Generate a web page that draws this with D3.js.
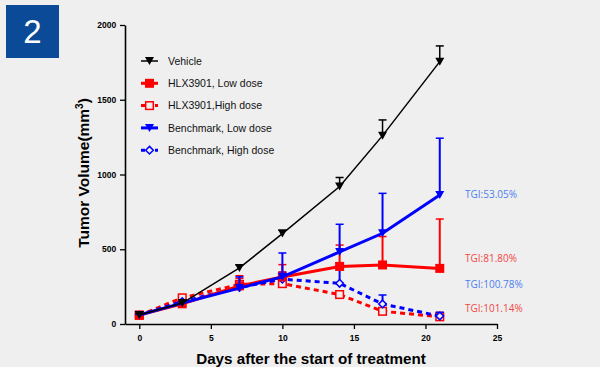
<!DOCTYPE html>
<html><head><meta charset="utf-8">
<script src="https://cdn.jsdelivr.net/npm/d3@7"></script>
<style>
html,body{margin:0;padding:0;background:#efefef;}
svg{display:block;}
</style></head>
<body>
<svg id="chart" width="600" height="367"></svg>
<script>
// ---- data ----
const days = [0, 3, 7, 10, 14, 17, 21];
const vehicle     = [60, 140, 375, 605, 920, 1260, 1755];
const vehicleSD   = [10, 10, 20, 22, 60, 105, 105];
const hlxLow      = [60, 135, 255, 315, 385, 395, 372];
const hlxLowSD    = [5, 10, 68, 82, 143, 190, 330];
const hlxHigh     = [58, 175, 265, 270, 197, 85, 48];
const hlxHighSD   = [5, 10, 40, 78, 10, 10, 30];
const bmLow       = [60, 140, 240, 315, 482, 607, 863];
const bmLowSD     = [5, 10, 75, 160, 185, 267, 380];
const bmHigh      = [60, 150, 245, 300, 272, 134, 53];
const bmHighSD    = [5, 10, 30, 45, 138, 60, 25];
const seriesNames = ["Vehicle", "HLX3901, Low dose", "HLX3901,High dose", "Benchmark, Low dose", "Benchmark, High dose"];
const xTicks = [0, 5, 10, 15, 20, 25];
const yTicks = [0, 500, 1000, 1500, 2000];
const tgiLabels = ["TGI:53.05%", "TGI:81.80%", "TGI:100.78%", "TGI:101.14%"];
const tgiY = [863, 435, 265, 105];

const series = [
  {name: seriesNames[0], v: vehicle, sd: vehicleSD, color: "#000", width: 1.5, dash: null, marker: "tri"},
  {name: seriesNames[1], v: hlxLow, sd: hlxLowSD, color: "#ff0000", width: 3, dash: null, marker: "sqFill"},
  {name: seriesNames[2], v: hlxHigh, sd: hlxHighSD, color: "#ff0000", width: 3, dash: "5,4", marker: "sqOpen"},
  {name: seriesNames[3], v: bmLow, sd: bmLowSD, color: "#0000ff", width: 3, dash: null, marker: "tri"},
  {name: seriesNames[4], v: bmHigh, sd: bmHighSD, color: "#0000ff", width: 3, dash: "5,4", marker: "dia"}
];
const tgiColors = ["#4a7ff0", "#f24646", "#4a7ff0", "#f24646"];

const svg = d3.select("#chart");
svg.append("rect").attr("width", 600).attr("height", 367).attr("fill", "#efefef");

// badge
svg.append("rect").attr("x", 6).attr("y", 5).attr("width", 53).attr("height", 53).attr("fill", "#0b4a96");
svg.append("text").attr("x", 32.5).attr("y", 43).attr("text-anchor", "middle")
  .attr("font-family", "Liberation Sans, Arial, sans-serif").attr("font-size", 33).attr("fill", "#fff").text("2");

const x = d3.scaleLinear().domain([-1, 25]).range([125, 497]);
const y = d3.scaleLinear().domain([0, 2000]).range([324, 25]);

const font = "Liberation Sans, Arial, sans-serif";

// axes
const xAxis = svg.append("g").attr("transform", "translate(0,324)")
  .call(d3.axisBottom(x).tickValues(xTicks).tickFormat(d3.format("d")).tickSize(5).tickSizeOuter(0));
const yAxis = svg.append("g").attr("transform", "translate(125,0)")
  .call(d3.axisLeft(y).tickValues(yTicks).tickFormat(d3.format("d")).tickSize(5).tickSizeOuter(0));
[xAxis, yAxis].forEach(g => {
  g.select(".domain").attr("stroke", "#000").attr("stroke-width", 1.6);
  g.selectAll(".tick line").attr("stroke", "#000").attr("stroke-width", 1.3);
  g.selectAll(".tick text").attr("font-family", font).attr("font-weight", "bold")
    .attr("font-size", 8.5).attr("fill", "#000");
});
xAxis.selectAll(".tick text").attr("dy", "1.1em");
yAxis.selectAll(".tick text").attr("dx", "-0.1em");

// axis titles
svg.append("text").attr("x", 311).attr("y", 364).attr("text-anchor", "middle")
  .attr("font-family", font).attr("font-weight", "bold").attr("font-size", 15.2).attr("fill", "#000")
  .text("Days after the start of treatment");
const yt = svg.append("text").attr("transform", "translate(89,173) rotate(-90)").attr("text-anchor", "middle")
  .attr("font-family", font).attr("font-weight", "bold").attr("font-size", 15.5).attr("fill", "#000");
yt.append("tspan").text("Tumor Volume(mm");
yt.append("tspan").attr("font-size", 10).attr("dy", -6).text("3");
yt.append("tspan").attr("dy", 6).text(")");

// marker drawing
function drawMarker(g, type, color, cx, cy) {
  if (type === "tri") {
    g.append("path").attr("d", `M${cx-4.5},${cy-4} L${cx+4.5},${cy-4} L${cx},${cy+4} Z`).attr("fill", color);
  } else if (type === "sqFill") {
    g.append("rect").attr("x", cx-4.5).attr("y", cy-4.5).attr("width", 9).attr("height", 9).attr("fill", color);
  } else if (type === "sqOpen") {
    g.append("rect").attr("x", cx-3.8).attr("y", cy-3.8).attr("width", 7.6).attr("height", 7.6)
      .attr("fill", "#efefef").attr("stroke", color).attr("stroke-width", 1.5);
  } else if (type === "dia") {
    g.append("path").attr("d", `M${cx},${cy-3.8} L${cx+3.8},${cy} L${cx},${cy+3.8} L${cx-3.8},${cy} Z`)
      .attr("fill", "#efefef").attr("stroke", color).attr("stroke-width", 1.5);
  }
}

const line = d3.line().x((d, i) => x(days[i])).y(d => y(d));
const plot = svg.append("g");
// draw order: back to front
const order = [2, 4, 1, 3, 0];
order.forEach(si => {
  const s = series[si];
  const g = plot.append("g");
  // error bars (upper)
  s.v.forEach((v, i) => {
    const top = y(v + s.sd[i]);
    g.append("line").attr("x1", x(days[i])).attr("x2", x(days[i])).attr("y1", y(v)).attr("y2", top)
      .attr("stroke", s.color).attr("stroke-width", si === 0 ? 1.5 : 2);
    g.append("line").attr("x1", x(days[i]) - 4).attr("x2", x(days[i]) + 4).attr("y1", top).attr("y2", top)
      .attr("stroke", s.color).attr("stroke-width", 1.5);
  });
  g.append("path").attr("d", line(s.v)).attr("fill", "none").attr("stroke", s.color)
    .attr("stroke-width", s.width).attr("stroke-dasharray", s.dash);
  s.v.forEach((v, i) => drawMarker(g, s.marker, s.color, x(days[i]), y(v)));
});

// legend
const lg = svg.append("g");
series.forEach((s, i) => {
  const ly = 61 + i * 22.3;
  lg.append("line").attr("x1", 141).attr("x2", 158).attr("y1", ly).attr("y2", ly)
    .attr("stroke", s.color).attr("stroke-width", s.width).attr("stroke-dasharray", s.dash ? "4,3" : null);
  drawMarker(lg, s.marker, s.color, 149.5, ly);
  lg.append("text").attr("x", 168).attr("y", ly + 3.8).attr("font-family", font).attr("font-size", 10.5)
    .attr("fill", "#111").text(s.name);
});

// TGI labels
tgiLabels.forEach((t, i) => {
  svg.append("text").attr("x", 465).attr("y", y(tgiY[i]) + 3.5).attr("font-family", "Open Sans, sans-serif")
    .attr("font-size", 10).attr("fill", tgiColors[i]).text(t);
});
</script>
</body></html>
